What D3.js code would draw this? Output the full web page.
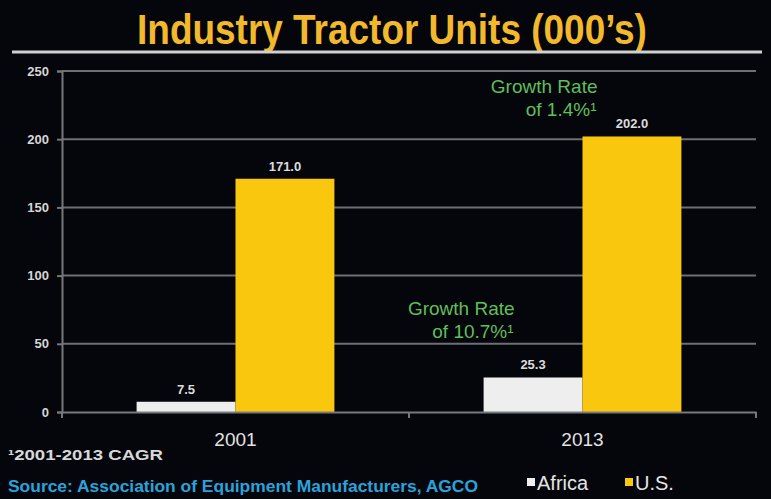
<!DOCTYPE html>
<html>
<head>
<meta charset="utf-8">
<script src="https://cdn.jsdelivr.net/npm/d3@7"></script>
<style>
  html, body { margin: 0; padding: 0; background: #05060b; }
  svg { display: block; }
</style>
</head>
<body>
<svg id="chart" width="771" height="499"></svg>
<script>
const categories = ["2001", "2013"];
const seriesNames = ["Africa", "U.S."];
const africaValues = [7.5, 25.3];
const usValues = [171.0, 202.0];
const yTicks = [0, 50, 100, 150, 200, 250];
const seriesColors = ["#eeeeee", "#f9c80e"];
const annotations = [
  { cat: "2013", value: 202.0, lines: ["Growth Rate", "of 1.4%¹"] },
  { cat: "2013", value: 25.3, lines: ["Growth Rate", "of 10.7%¹"] }
];

const svg = d3.select("#chart");
const W = 771, H = 499;
svg.append("rect").attr("width", W).attr("height", H).attr("fill", "#05060b");

// Title
svg.append("text")
  .attr("transform", "translate(392,44) scale(0.88,1)")
  .attr("text-anchor", "middle")
  .attr("font-family", "'Liberation Sans', Arial, sans-serif")
  .attr("font-weight", "bold")
  .attr("font-size", 42)
  .attr("fill", "#f3b92c")
  .text("Industry Tractor Units (000’s)");

svg.append("line")
  .attr("x1", 12).attr("x2", 762).attr("y1", 52).attr("y2", 52)
  .attr("stroke", "#cfcfcf").attr("stroke-width", 3);

const margin = { left: 62, right: 756, top: 71, bottom: 412 };
const x0 = d3.scaleBand().domain(categories).range([margin.left, margin.right]).paddingInner(0.43).paddingOuter(0.215);
const x1 = d3.scaleBand().domain(seriesNames).range([0, x0.bandwidth()]).padding(0);
const y = d3.scaleLinear().domain([0, 250]).range([margin.bottom, margin.top]);

// gridlines
svg.append("g").selectAll("line").data(yTicks.filter(d => d > 0)).join("line")
  .attr("x1", margin.left).attr("x2", margin.right)
  .attr("y1", d => y(d)).attr("y2", d => y(d))
  .attr("stroke", "#6e6f73").attr("stroke-width", 2);

// y axis
const yAxis = d3.axisLeft(y).tickValues(yTicks).tickSize(5).tickPadding(8);
const gy = svg.append("g").attr("transform", `translate(${margin.left},0)`).call(yAxis);
gy.select(".domain").attr("stroke", "#77787c").attr("stroke-width", 2);
gy.selectAll(".tick line").attr("stroke", "#77787c").attr("stroke-width", 2);
gy.selectAll(".tick text")
  .attr("fill", "#d6d6d6")
  .attr("font-family", "'Liberation Sans', Arial, sans-serif")
  .attr("font-weight", "bold")
  .attr("font-size", 13);

// bars
const data = categories.map((c, i) => ({ cat: c, vals: [africaValues[i], usValues[i]] }));
const groups = svg.append("g").selectAll("g").data(data).join("g")
  .attr("transform", d => `translate(${x0(d.cat)},0)`);
groups.selectAll("rect").data(d => d.vals.map((v, j) => ({ name: seriesNames[j], v, j }))).join("rect")
  .attr("x", d => x1(d.name))
  .attr("width", x1.bandwidth())
  .attr("y", d => y(d.v))
  .attr("height", d => y(0) - y(d.v))
  .attr("fill", d => seriesColors[d.j]);
groups.selectAll("text.val").data(d => d.vals.map((v, j) => ({ name: seriesNames[j], v, j }))).join("text")
  .attr("class", "val")
  .attr("x", d => x1(d.name) + x1.bandwidth() / 2)
  .attr("y", d => y(d.v) - 8)
  .attr("text-anchor", "middle")
  .attr("font-family", "'Liberation Sans', Arial, sans-serif")
  .attr("font-weight", "bold")
  .attr("font-size", 13)
  .attr("fill", "#dcdcdc")
  .text(d => d3.format(".1f")(d.v));

// x axis
const xAxis = d3.axisBottom(x0).tickSize(0).tickPadding(21);
const gx = svg.append("g").attr("transform", `translate(0,${margin.bottom})`).call(xAxis);
gx.select(".domain").attr("stroke", "#77787c").attr("stroke-width", 2);
gx.selectAll(".tick text")
  .attr("fill", "#e2e2e2")
  .attr("font-family", "'Liberation Sans', Arial, sans-serif")
  .attr("font-size", 19);
// separator ticks between categories
const sepX = [margin.left, (x0(categories[0]) + x0.bandwidth() + x0(categories[1])) / 2, margin.right];
svg.append("g").selectAll("line").data(sepX).join("line")
  .attr("x1", d => d).attr("x2", d => d)
  .attr("y1", margin.bottom).attr("y2", margin.bottom + 6)
  .attr("stroke", "#77787c").attr("stroke-width", 2);

// annotations (right-aligned text blocks)
const annPos = [ { dx: 15, dy: -43 }, { dx: 31, dy: -62 } ];
annotations.forEach((a, i) => {
  const bx = x0(a.cat) + (i === 0 ? x1("U.S.") : x1("Africa"));
  const yy = y(a.value);
  const t = svg.append("text")
    .attr("font-family", "'Liberation Sans', Arial, sans-serif")
    .attr("font-size", 19)
    .attr("fill", "#5fbf5a")
    .attr("text-anchor", "end");
  t.append("tspan").attr("x", bx + annPos[i].dx).attr("y", yy + annPos[i].dy).text(a.lines[0]);
  t.append("tspan").attr("x", bx + annPos[i].dx - 1).attr("dy", 23).text(a.lines[1]);
});

// footnote
svg.append("text")
  .attr("x", 8).attr("y", 460)
  .attr("font-family", "'Liberation Sans', Arial, sans-serif")
  .attr("font-weight", "bold")
  .attr("font-size", 15)
  .attr("fill", "#d8d8d8")
  .attr("textLength", 155)
  .attr("lengthAdjust", "spacingAndGlyphs")
  .text("¹2001-2013 CAGR");

svg.append("text")
  .attr("x", 8).attr("y", 492)
  .attr("font-family", "'Liberation Sans', Arial, sans-serif")
  .attr("font-weight", "bold")
  .attr("font-size", 16)
  .attr("fill", "#2aa3dc")
  .attr("textLength", 470)
  .attr("lengthAdjust", "spacingAndGlyphs")
  .text("Source: Association of Equipment Manufacturers, AGCO");

// legend
const legX = [527, 625];
const leg = svg.append("g").selectAll("g").data(seriesNames).join("g")
  .attr("transform", (d, i) => `translate(${legX[i]},475)`);
leg.append("rect").attr("x", 0).attr("y", 3).attr("width", 8).attr("height", 8)
  .attr("fill", (d, i) => seriesColors[i]);
leg.append("text").attr("x", 10).attr("y", 15)
  .attr("font-family", "'Liberation Sans', Arial, sans-serif")
  .attr("font-size", 20)
  .attr("fill", "#e4e4e4")
  .text(d => d);
</script>
</body>
</html>
